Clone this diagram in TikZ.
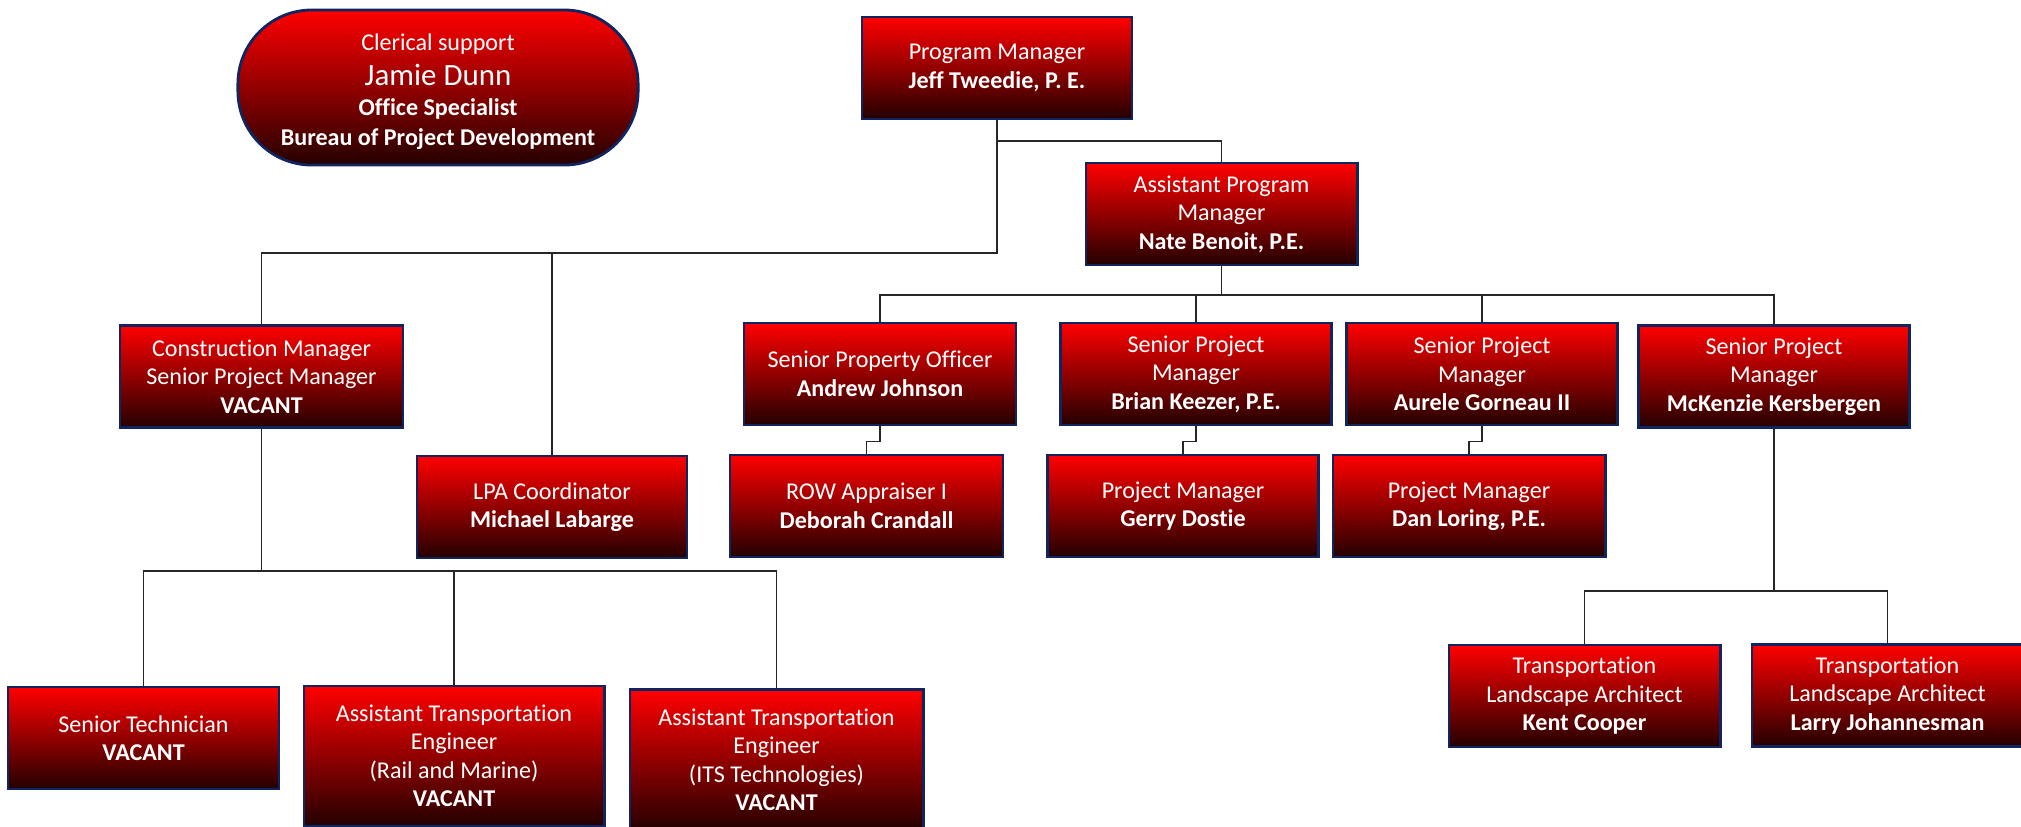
\documentclass[tikz,border=0pt]{standalone}
\usepackage{fontspec}
\setmainfont{Carlito}[Ligatures={NoCommon}]
\definecolor{boxline}{RGB}{16,36,96}
\definecolor{boxmid}{RGB}{172,0,0}
\definecolor{boxdark}{RGB}{36,0,0}
\begin{document}
\begin{tikzpicture}[x=0.01cm,y=-0.01cm,
	box/.style={draw=boxline, line width=0.8pt, top color=red, middle color=boxmid, bottom color=boxdark, text=white, align=center, minimum width=2.7cm, minimum height=1.02cm, inner sep=1pt, font=\fontsize{6.85}{8.1}\selectfont},
	link/.style={line width=0.45pt, black!85}]
	\useasboundingbox (0,0) rectangle (2021,826);
	\node[box, rounded corners=0.74cm, minimum width=4cm, minimum height=1.55cm] (cs) at (438,87.5) {\rule{0pt}{7pt}Clerical support\\[1.8pt]{\fontsize{8.8}{10}\selectfont Jamie Dunn}\\[0.5pt]\textbf{Office Specialist}\\[0.3pt]\textbf{Bureau of Project Development}};
	\node[box] (pm) at (997,68) {Program Manager\\\textbf{Jeff Tweedie, P. E.}};
	\node[box, minimum width=2.71cm] (apm) at (1221.5,214) {Assistant Program\\Manager\\\textbf{Nate Benoit, P.E.}};
	\node[box, minimum width=2.83cm] (cm) at (261.5,376.5) {Construction Manager\\Senior Project Manager\\\textbf{VACANT}};
	\node[box] (lpa) at (552,507) {LPA Coordinator\\\textbf{Michael Labarge}};
	\node[box, minimum width=2.72cm] (spo) at (880,374) {Senior Property Officer\\\textbf{Andrew Johnson}};
	\node[box, minimum width=2.71cm] (bk) at (1196,374) {Senior Project\\Manager\\\textbf{Brian Keezer, P.E.}};
	\node[box, minimum width=2.71cm] (ag) at (1482,374) {Senior Project\\Manager\\\textbf{Aurele Gorneau II}};
	\node[box, minimum width=2.71cm] (mk) at (1774,376.5) {Senior Project\\Manager\\\textbf{McKenzie Kersbergen}};
	\node[box, minimum width=2.73cm] (row) at (866.5,506) {ROW Appraiser I\\\textbf{Deborah Crandall}};
	\node[box, minimum width=2.71cm] (gd) at (1183,506) {Project Manager\\\textbf{Gerry Dostie}};
	\node[box, minimum width=2.72cm] (dl) at (1469,506) {Project Manager\\\textbf{Dan Loring, P.E.}};
	\node[box, minimum width=2.71cm] (st) at (143.5,738) {Senior Technician\\\textbf{VACANT}};
	\node[box, minimum width=3cm, minimum height=1.4cm] (ate1) at (454,756) {Assistant Transportation\\Engineer\\(Rail and Marine)\\\textbf{VACANT}};
	\node[box, minimum width=2.93cm, minimum height=1.41cm] (ate2) at (776.5,760) {Assistant Transportation\\Engineer\\(ITS Technologies)\\\textbf{VACANT}};
	\node[box, minimum width=2.71cm] (kc) at (1584.5,696) {Transportation\\Landscape Architect\\\textbf{Kent Cooper}};
	\node[box, minimum width=2.71cm] (lj) at (1887.5,695.5) {Transportation\\Landscape Architect\\\textbf{Larry Johannesman}};
	\coordinate (pmjoin) at (997,141);
	\coordinate (pmleft) at (997,253);
	\draw[link] (pm.south) -- (pmjoin) -| (apm.north);
	\draw[link] (pmjoin) -- (pmleft) -| (cm.north);
	\draw[link] (pmleft) -| (lpa.north);
	\coordinate (apmjoin) at (1221.5,295);
	\draw[link] (apm.south) -- (apmjoin);
	\foreach \n in {spo,bk,ag,mk} \draw[link] (apmjoin) -| (\n.north);
	\foreach \a/\b in {spo/row,bk/gd,ag/dl} \draw[link] (\a.south) -- ++(0,15) -| (\b.north);
	\coordinate (cmjoin) at (261.5,571);
	\draw[link] (cm.south) -- (cmjoin);
	\foreach \n in {st,ate1,ate2} \draw[link] (cmjoin) -| (\n.north);
	\coordinate (mkjoin) at (1774,591);
	\draw[link] (mk.south) -- (mkjoin);
	\foreach \n in {kc,lj} \draw[link] (mkjoin) -| (\n.north);
\end{tikzpicture}
\end{document}
